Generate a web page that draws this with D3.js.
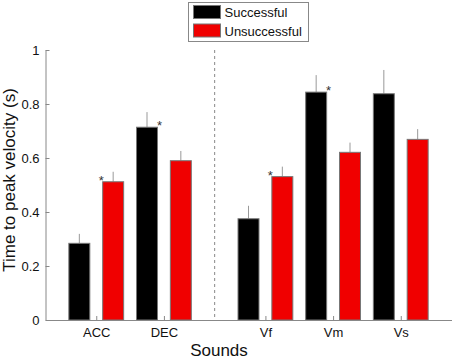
<!DOCTYPE html>
<html>
<head>
<meta charset="utf-8">
<script src="https://cdn.jsdelivr.net/npm/d3@7"></script>
<style>
  body { margin: 0; background: #fff; }
  text { font-family: "Liberation Sans", Arial, sans-serif; }
</style>
</head>
<body>
<div id="chart"></div>
<script>
// data
let sounds = ["ACC", "DEC", "Vf", "Vm", "Vs"];
let soundPos = [1, 2, 3.5, 4.5, 5.5];   // gap between the two groups
let seriesNames = ["Successful", "Unsuccessful"];
let successful = [0.284, 0.714, 0.375, 0.844, 0.838];
let successfulErr = [0.035, 0.056, 0.048, 0.063, 0.088];
let unsuccessful = [0.512, 0.590, 0.531, 0.621, 0.669];
let unsuccessfulErr = [0.037, 0.036, 0.037, 0.036, 0.038];
let yTicks = [0, 0.2, 0.4, 0.6, 0.8, 1];
// significance stars: [sound index, series index]
let stars = [[0, 1], [1, 0], [2, 1], [3, 0]];
let dividerAt = 2.75;

let width = 454, height = 360;
let margin = { top: 50, left: 45.5, right: 2.5, bottom: 40 };

let svg = d3.select("#chart")
  .append("svg")
  .attr("width", width)
  .attr("height", height);

let x = d3.scaleLinear()
  .domain([0.25, 6.25])
  .range([margin.left, width - margin.right]);

let y = d3.scaleLinear()
  .domain([0, 1])
  .range([height - margin.bottom, margin.top]);

let colors = ["#000000", "#f00000"];
let offset = 0.25, barW = 0.31;

let rows = [];
sounds.forEach((s, i) => {
  rows.push({ i: i, s: 0, pos: soundPos[i] - offset, v: successful[i], e: successfulErr[i] });
  rows.push({ i: i, s: 1, pos: soundPos[i] + offset, v: unsuccessful[i], e: unsuccessfulErr[i] });
});

// dashed divider
svg.append("line")
  .attr("x1", x(dividerAt)).attr("x2", x(dividerAt))
  .attr("y1", y(1)).attr("y2", y(0))
  .attr("stroke", "#888")
  .attr("stroke-dasharray", "3,3");

// error bars (upper only)
svg.append("g")
  .selectAll("line")
  .data(rows)
  .join("line")
    .attr("x1", d => x(d.pos)).attr("x2", d => x(d.pos))
    .attr("y1", d => y(d.v)).attr("y2", d => y(d.v + d.e))
    .attr("stroke", "#999")
    .attr("stroke-width", 1);

// bars
let bw = x(barW) - x(0);
svg.append("g")
  .selectAll("rect")
  .data(rows)
  .join("rect")
    .attr("x", d => x(d.pos) - bw / 2)
    .attr("width", bw)
    .attr("y", d => y(d.v))
    .attr("height", d => y(0) - y(d.v))
    .attr("fill", d => colors[d.s])
    .attr("stroke", "#777")
    .attr("stroke-width", 1);

// stars
svg.append("g")
  .selectAll("text")
  .data(stars)
  .join("text")
    .attr("x", d => {
      let r = rows.find(r => r.i === d[0] && r.s === d[1]);
      return d[1] === 1 ? x(r.pos) - bw / 2 - 1.5 : x(r.pos) + bw / 2 + 2;
    })
    .attr("y", d => {
      let r = rows.find(r => r.i === d[0] && r.s === d[1]);
      return y(r.v) + 3;
    })
    .attr("text-anchor", "middle")
    .attr("font-size", 13)
    .attr("fill", "#333")
    .text("*");

// axes
let xAxis = svg.append("g")
  .attr("transform", `translate(0,${y(0)})`)
  .call(d3.axisBottom(x).tickValues(soundPos).tickFormat((d, i) => sounds[i]).tickSize(-4).tickPadding(8).tickSizeOuter(0));

let yAxis = svg.append("g")
  .attr("transform", `translate(${margin.left},0)`)
  .call(d3.axisLeft(y).tickValues(yTicks).tickFormat(d3.format("")).tickSize(-4).tickPadding(6).tickSizeOuter(0));

[xAxis, yAxis].forEach(a => {
  a.select(".domain").attr("stroke", "#888");
  a.selectAll(".tick line").attr("stroke", "#888");
  a.selectAll(".tick text")
    .attr("font-size", 13)
    .attr("font-family", "Liberation Sans, Arial, sans-serif")
    .attr("fill", "#111");
});

// axis titles
svg.append("text")
  .attr("x", 219)
  .attr("y", 356)
  .attr("text-anchor", "middle")
  .attr("font-size", 17)
  .attr("fill", "#111")
  .text("Sounds");

svg.append("text")
  .attr("transform", "translate(15,180) rotate(-90)")
  .attr("text-anchor", "middle")
  .attr("font-size", 17)
  .attr("fill", "#111")
  .text("Time to peak velocity (s)");

// legend
let legend = svg.append("g");
legend.append("rect")
  .attr("x", 188.5).attr("y", 2.5)
  .attr("width", 120).attr("height", 39)
  .attr("fill", "#fff")
  .attr("stroke", "#888");

let items = legend.selectAll("g.item")
  .data(seriesNames)
  .join("g")
    .attr("class", "item")
    .attr("transform", (d, i) => `translate(193.5,${5.5 + i * 18.5})`);

items.append("rect")
  .attr("width", 27).attr("height", 13)
  .attr("fill", (d, i) => colors[i])
  .attr("stroke", "#777");

items.append("text")
  .attr("x", 31)
  .attr("y", 11.5)
  .attr("font-size", 13)
  .attr("fill", "#111")
  .text(d => d);
</script>
</body>
</html>
